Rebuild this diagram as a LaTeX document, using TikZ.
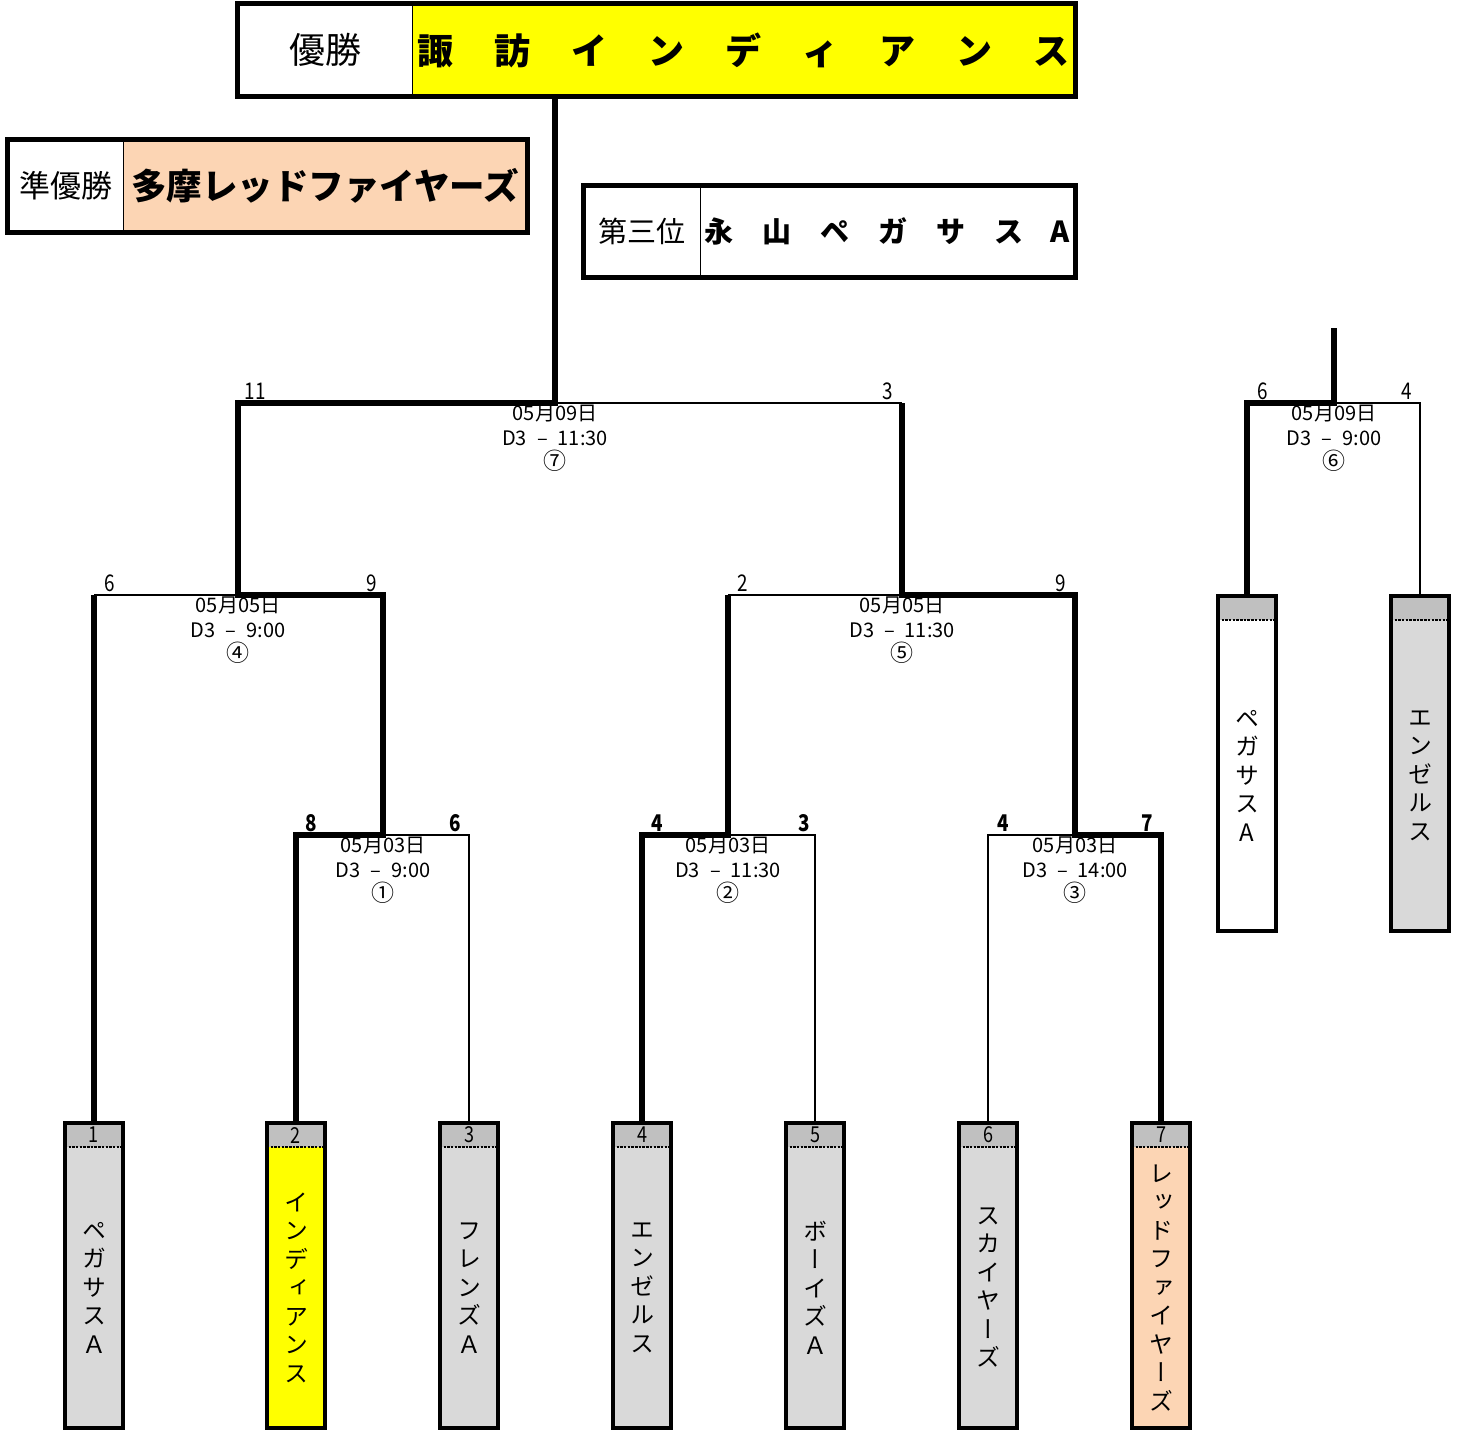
\documentclass[tikz,border=0pt]{standalone}
\usepackage{fontspec}
\setmainfont{Noto Sans CJK JP}
\newfontfamily\cond[FakeStretch=0.82]{Noto Sans CJK JP}
\newfontfamily\vname[RawFeature=+vert]{Noto Sans CJK JP}
\usetikzlibrary{calc}
\definecolor{champY}{HTML}{FFFF00}
\definecolor{peach}{HTML}{FCD5B4}
\definecolor{lgray}{HTML}{D9D9D9}
\definecolor{hgray}{HTML}{C0C0C0}
\newcommand\circnum[1]{{\fontsize{23}{23}\selectfont #1}}
\tikzset{
  winline/.style={line width=6pt, line join=miter},
  loseline/.style={line width=2pt, line join=miter},
  frameline/.style={line width=5pt},
  cellbox/.style={draw, line width=1pt, inner sep=0pt, fill=white},
  teamframe/.style={minimum width=58pt, inner sep=0pt, anchor=north},
  hdrline/.style={line width=2.5pt, dash pattern=on 2.5pt off 1.2pt},
  numlbl/.style={font=\cond\fontsize{22}{22}\selectfont, inner sep=0pt},
  namelbl/.style={font=\vname\fontsize{24}{28.5}\selectfont, align=center, inner sep=0pt},
  datelbl/.style={font=\fontsize{20}{24.5}\selectfont, align=center, anchor=north, inner sep=0pt},
  score/.style={font=\cond\fontsize{23}{23}\selectfont, anchor=base, inner sep=0pt},
  bscore/.style={font=\cond\bfseries\fontsize{23}{23}\selectfont, anchor=base, inner sep=0pt},
}
\newcommand\teamcell[7]{%
  \node[teamframe, fill=#5, minimum height=#4pt] (#1) at (#2,#3) {};
  \fill[hgray] (#1.north west) rectangle ([yshift=-24pt]#1.north east);
  \draw[hdrline] ([yshift=-24pt]#1.north west) -- ([yshift=-24pt]#1.north east);
  \draw[line width=4pt] (#1.north west) rectangle (#1.south east);
  \node[numlbl] (#1num) at ([yshift=-12pt]#1.north) {#6};
  \node[namelbl] (#1name) at ($(#1.south)!0.5!([yshift=-24pt]#1.north)$) {#7};
}
\begin{document}
\begin{tikzpicture}[x=1pt,y=-1pt]
\useasboundingbox (0,0) rectangle (1461,1430);

% ---- result boxes ----
\node[cellbox, minimum width=174pt, minimum height=92pt] (champL) at (325,50) {\fontsize{36}{36}\selectfont 優勝};
\node[cellbox, fill=champY, minimum width=663pt, minimum height=92pt] (champR) at (743.5,50)
  {\bfseries\fontsize{36}{36}\selectfont 諏\hspace{41pt}訪\hspace{41pt}イ\hspace{41pt}ン\hspace{41pt}デ\hspace{41pt}ィ\hspace{41pt}ア\hspace{41pt}ン\hspace{41pt}ス};
\draw[frameline] (champL.north west) rectangle (champR.south east);

\node[cellbox, minimum width=115pt, minimum height=92pt] (ruL) at (65.5,186) {\fontsize{31}{31}\selectfont 準優勝};
\node[cellbox, fill=peach, minimum width=404pt, minimum height=92pt] (ruR) at (325,186)
  {\bfseries\fontsize{35.5}{35.5}\selectfont 多摩レッドファイヤーズ};
\draw[frameline] (ruL.north west) rectangle (ruR.south east);

\node[cellbox, minimum width=116pt, minimum height=91pt] (thL) at (642,231.5) {\fontsize{29}{29}\selectfont 第三位};
\node[cellbox, minimum width=375pt, minimum height=91pt] (thR) at (887.5,231.5)
  {\bfseries\fontsize{29}{29}\selectfont 永\hspace{29pt}山\hspace{29pt}ペ\hspace{29pt}ガ\hspace{29pt}サ\hspace{29pt}ス\hspace{27pt}A};
\draw[frameline] (thL.north west) rectangle (thR.south east);

% ---- match points ----
\coordinate (m1) at (383,835);
\coordinate (m2) at (728,835);
\coordinate (m3) at (1075,835);
\coordinate (m4) at (238,595);
\coordinate (m5) at (902,595);
\coordinate (m7) at (555,403);
\coordinate (m6) at (1334,403);
\coordinate (m6up) at (1334,328);

% ---- team boxes ----
\teamcell{t1}{94}{1123}{305}{lgray}{1}{ペ\\ガ\\サ\\ス\\Ａ}
\teamcell{t2}{296}{1123}{305}{champY}{2}{イ\\ン\\デ\\ィ\\ア\\ン\\ス}
\teamcell{t3}{469}{1123}{305}{lgray}{3}{フ\\レ\\ン\\ズ\\Ａ}
\teamcell{t4}{642}{1123}{305}{lgray}{4}{エ\\ン\\ゼ\\ル\\ス}
\teamcell{t5}{815}{1123}{305}{lgray}{5}{ボ\\ー\\イ\\ズ\\Ａ}
\teamcell{t6}{988}{1123}{305}{lgray}{6}{ス\\カ\\イ\\ヤ\\ー\\ズ}
\teamcell{t7}{1161}{1123}{305}{peach}{7}{レ\\ッ\\ド\\フ\\ァ\\イ\\ヤ\\ー\\ズ}
\teamcell{p1}{1247}{596}{335}{white}{}{ペ\\ガ\\サ\\ス\\A}
\teamcell{p2}{1420}{596}{335}{lgray}{}{エ\\ン\\ゼ\\ル\\ス}

% ---- bracket lines ----
\draw[loseline] (m1) -| (t3.north);
\draw[loseline] (t1.north |- m4) -- (m4);
\draw[loseline] (m2 |- m5) -- (m5);
\draw[loseline] (m2) -| (t5.north);
\draw[loseline] (m5 |- m7) -- (m7);
\draw[loseline] (m3) -| (t6.north);
\draw[loseline] (m6) -| (p2.north);

\draw[winline] (t2.north) |- (m1) -- (m1 |- m4) -- (m4) -- (m4 |- m7) -- (m7) -- (m7 |- champR.south);
\draw[winline] (t1.north) -- (t1.north |- m4);
\draw[winline] (t4.north) |- (m2) -- (m2 |- m5);
\draw[winline] (t7.north) |- (m3) -- (m3 |- m5) -- (m5) -- (m5 |- m7);
\draw[winline] (p1.north) |- (m6) -- (m6up);

% ---- match labels ----
\node[datelbl] (d7) at (555,405) {05月09日\\D3\enspace–\enspace11:30\\\circnum{⑦}};
\node[datelbl] (d4) at (238,597) {05月05日\\D3\enspace–\enspace9:00\\\circnum{④}};
\node[datelbl] (d5) at (902,597) {05月05日\\D3\enspace–\enspace11:30\\\circnum{⑤}};
\node[datelbl] (d1) at (383,837) {05月03日\\D3\enspace–\enspace9:00\\\circnum{①}};
\node[datelbl] (d2) at (728,837) {05月03日\\D3\enspace–\enspace11:30\\\circnum{②}};
\node[datelbl] (d3) at (1075,837) {05月03日\\D3\enspace–\enspace14:00\\\circnum{③}};
\node[datelbl] (d6) at (1334,405) {05月09日\\D3\enspace–\enspace9:00\\\circnum{⑥}};

% ---- scores ----
\node[score] (s7l) at (255,399) {11};
\node[score] (s7r) at (888,399) {3};
\node[score] (s4l) at (110,591) {6};
\node[score] (s4r) at (372,591) {9};
\node[score] (s5l) at (743,591) {2};
\node[score] (s5r) at (1061,591) {9};
\node[score] (s6l) at (1263,399) {6};
\node[score] (s6r) at (1407,399) {4};
\node[bscore] (s1l) at (311,831) {8};
\node[bscore] (s1r) at (455,831) {6};
\node[bscore] (s2l) at (657,831) {4};
\node[bscore] (s2r) at (804,831) {3};
\node[bscore] (s3l) at (1003,831) {4};
\node[bscore] (s3r) at (1147,831) {7};
\end{tikzpicture}
\end{document}
